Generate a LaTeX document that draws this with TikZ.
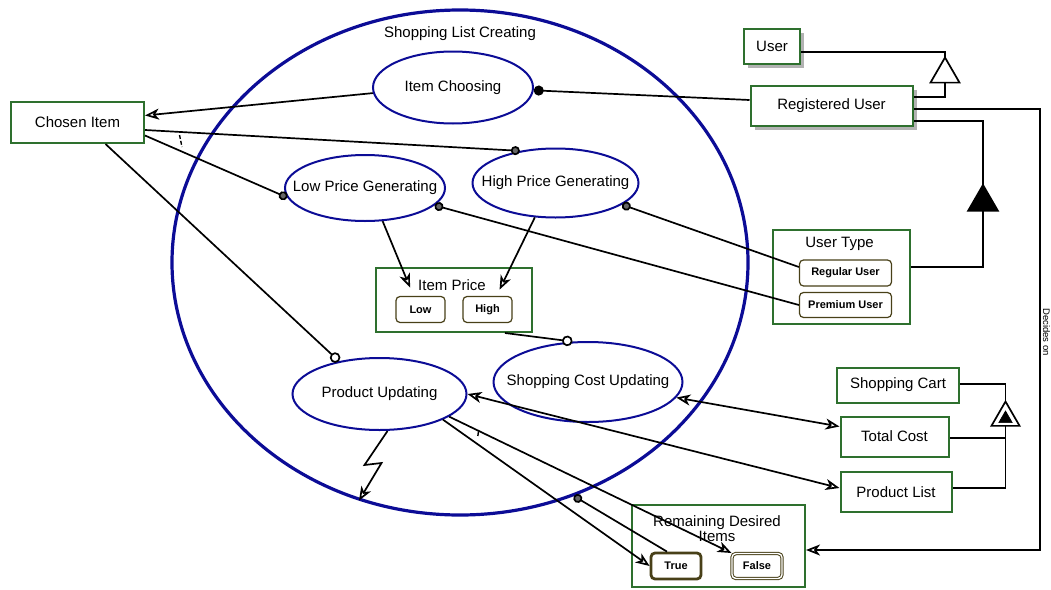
\documentclass[tikz,border=0pt]{standalone}
\usepackage{fontspec}
\setmainfont{Liberation Sans}
\usetikzlibrary{arrows.meta,shapes.geometric,shadows}
\definecolor{procblue}{RGB}{12,12,150}
\definecolor{objgreen}{RGB}{46,112,46}
\definecolor{stateol}{RGB}{72,64,24}
\newcommand\myfs[1]{\fontsize{#1}{#1}\selectfont}
\begin{document}
\begin{tikzpicture}[x=1pt,y=-1pt,
  proc/.style={ellipse, draw=procblue, line width=2pt, inner sep=0pt, font=\myfs{15}},
  obj/.style={rectangle, draw=objgreen, line width=2pt, fill=white, inner sep=0pt, font=\myfs{15}},
  shadowed/.style={drop shadow={shadow xshift=4pt, shadow yshift=-4pt, fill=black!30, opacity=1}},
  state/.style={rectangle, rounded corners=4pt, draw=stateol, line width=1.2pt, fill=white, inner sep=0pt, font=\myfs{11}\bfseries},
  title/.style={inner sep=0pt, font=\myfs{15}},
  link/.style={draw=black, line width=1.7pt},
  tri/.style={regular polygon, regular polygon sides=3, draw=black, line width=1.7pt, fill=white, inner sep=0pt, outer sep=0pt, minimum size=33.5},
  oarrow/.tip={Stealth[open, fill=white, length=14pt, width=11pt, inset=4pt]},
  agentdot/.tip={Circle[length=10pt]},
  conddot/.tip={Circle[length=9pt, fill=black!60]},
  instdot/.tip={Circle[open, fill=white, length=10.5pt]}
]
\useasboundingbox (0,0) rectangle (1051,589);

% processes
\node[proc, line width=3.2pt, minimum width=576, minimum height=505] (slc) at (460,262.5) {};
\node[title] (slcT) at (460,34) {Shopping List Creating};
\node[proc, minimum width=160, minimum height=72] (ic) at (453,87.5) {\makebox[0pt]{Item Choosing}};
\node[proc, minimum width=160, minimum height=66] (lp) at (365,188) {\makebox[0pt]{Low Price Generating}};
\node[proc, minimum width=166, minimum height=69] (hp) at (555.5,183) {\makebox[0pt]{High Price Generating}};
\node[proc, minimum width=174, minimum height=72] (pu) at (379.5,394) {\makebox[0pt]{Product Updating}};
\node[proc, minimum width=189, minimum height=80] (scu) at (588,382) {\makebox[0pt]{Shopping Cost Updating}};

% objects
\node[obj, minimum width=133, minimum height=41] (ci) at (77.5,122.5) {Chosen Item};
\node[obj, shadowed, minimum width=56, minimum height=35] (user) at (772,46) {User};
\node[obj, shadowed, minimum width=162, minimum height=40] (ru) at (831.5,106) {Registered User};
\node[obj, minimum width=137, minimum height=94] (ut) at (841.5,277) {};
\node[title] (utT) at (839.5,243.5) {User Type};
\node[state, minimum width=92, minimum height=26] (reg) at (845.5,273) {Regular User};
\node[state, minimum width=92, minimum height=25] (prem) at (845.5,305) {Premium User};
\node[obj, minimum width=156, minimum height=64] (ip) at (454,300) {};
\node[title] (ipT) at (452,285) {Item Price};
\node[state, minimum width=49, minimum height=26] (low) at (420.5,309.5) {Low};
\node[state, minimum width=49, minimum height=26] (high) at (487.5,309.5) {High};
\node[obj, minimum width=122, minimum height=35] (sc) at (898,385) {Shopping Cart};
\node[obj, minimum width=108, minimum height=40] (tc) at (894.5,436.5) {Total Cost};
\node[obj, minimum width=111, minimum height=40] (pl) at (896,492) {Product List};
\node[obj, minimum width=173, minimum height=82] (rdi) at (718.5,546) {};
\node[title, align=center] (rdiT) at (717,529) {Remaining Desired\\Items};
\node[state, line width=2.8pt, minimum width=50, minimum height=26] (tr) at (676,566) {True};
\node[state, double=white, double distance=1.4pt, line width=1pt, minimum width=50, minimum height=25] (fa) at (757,566) {False};

% structural link triangles
\node[tri, anchor=north] (gU) at (945,57.5) {};
\node[tri, fill=black, minimum size=34.5, anchor=north] (agg) at (983,185) {};
\node[tri, minimum size=32.5, anchor=north] (exh) at (1005.5,401.5) {};
\node[tri, fill=black, minimum size=15.5, line width=0.6pt, anchor=south] (exhIn) at ([yshift=3.3pt]exh.south) {};

% structural links
\draw[link] ([yshift=-6pt]user.east) -| (gU.north);
\draw[link] (gU.south) |- ([yshift=8.7pt]ru.east);
\draw[link] ([yshift=-14.7pt]ru.east) -| (agg.north);
\draw[link] (agg.south) |- ([yshift=10.3pt]ut.east);
\draw[link] ([yshift=1pt]sc.east) -| (exh.north);
\draw[link] (exh.south) |- ([yshift=-1.6pt]tc.east);
\draw[link] (exh.south) |- ([yshift=4pt]pl.east);

% tagged link
\coordinate (dOn) at (1040,550);
\draw[link, -{oarrow}] ([yshift=-3.3pt]ru.east) -| (dOn) -- ([yshift=-4pt]rdi.east);
\node[rotate=-90, inner sep=0pt, font=\myfs{9.5}] (dLbl) at (1046.5,332) {Decides on};

% procedural links
\draw[link, -{oarrow}] (ic.184) -- ([yshift=7pt]ci.east);
\draw[link, -{agentdot}] ([yshift=6pt]ru.west) -- (ic.-2);
\draw[link, -{conddot}] ([yshift=-7.5pt]ci.east) -- (hp.138);
\draw[link, -{conddot}] ([yshift=-13pt]ci.east) -- (lp.187);
\draw[link, -{instdot}] ([xshift=28pt]ci.south) -- (pu.141);
\draw[link, -{oarrow}, shorten >=9pt] (lp.-62) -- ([xshift=-7pt]low.north);
\draw[link, -{oarrow}, shorten >=7pt] (hp.239) -- ([xshift=9pt]high.north);
\draw[link, -{conddot}] ([yshift=6pt]reg.west) -- (hp.-18);
\draw[link, -{conddot}] (prem.west) -- (lp.-14);
\draw[link, -{instdot}] ([xshift=51pt]ip.south) -- (scu.111);
\draw[link, {oarrow}-{oarrow}] (scu.-10) -- ([yshift=10pt]tc.west);
\draw[link, {oarrow}-{oarrow}] (pu.east) -- ([yshift=4pt]pl.west);
\draw[link, -{oarrow}] (pu.-22) -- (tr.west);
\draw[link, -{oarrow}] (pu.-18) -- (fa.north west);
\draw[link, -{conddot}] ([xshift=-9pt]tr.north) -- (slc.-64);
% invocation (lightning) link
\draw[link, -{oarrow}] ([xshift=8pt]pu.south) -- ++(-23,34) -- ++(17,-2) -- (slc.-113);

% small tick marks on links
\draw[line width=1.4pt, dash pattern=on 4pt off 2pt] (179.5,135) -- (182,147);
\draw[line width=1.4pt] (478.5,431.5) -- (477.8,436);
\end{tikzpicture}
\end{document}
